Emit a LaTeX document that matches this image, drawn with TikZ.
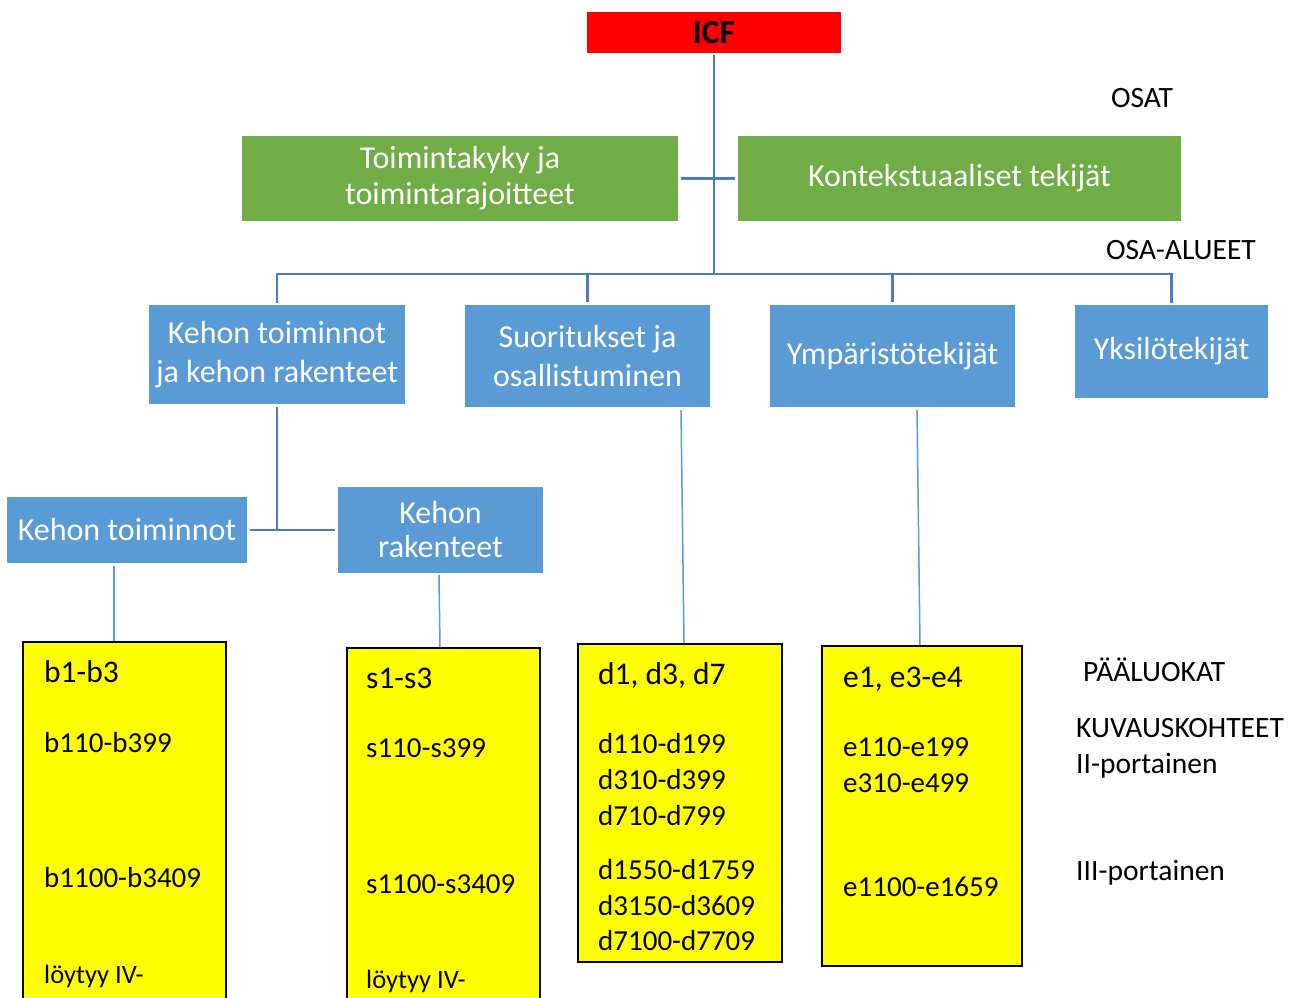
\documentclass[tikz,border=0pt]{standalone}
\usepackage{fontspec}
\setmainfont{Carlito}
\definecolor{icfred}{RGB}{255,0,0}
\definecolor{grn}{RGB}{112,173,71}
\definecolor{blu}{RGB}{91,155,213}
\definecolor{conn}{RGB}{74,126,187}
\definecolor{thinconn}{RGB}{91,155,213}
\definecolor{ylw}{RGB}{255,255,0}
\begin{document}
\begin{tikzpicture}[x=1pt,y=-1pt,
  box/.style={rectangle, inner sep=0pt, align=center, text=white,
    font=\fontsize{32}{39}\selectfont},
  greenbox/.style={box, fill=grn, font=\fontsize{32}{36}\selectfont},
  bluebox/.style={box, fill=blu},
  ybox/.style={rectangle, inner sep=0pt, fill=ylw, draw=black, line width=1.5pt},
  ytxt/.style={anchor=base west, inner sep=0pt, font=\fontsize{29}{34}\selectfont},
  yhead/.style={anchor=base west, inner sep=0pt, font=\fontsize{31.5}{36}\selectfont},
  ybig/.style={anchor=base west, inner sep=0pt, font=\fontsize{29}{34}\selectfont},
  ysmall/.style={anchor=base west, inner sep=0pt, font=\fontsize{26.5}{30}\selectfont},
  lbl/.style={inner sep=0pt, font=\fontsize{29.5}{34}\selectfont},
  thickc/.style={draw=conn, line width=2.8pt},
  thinc/.style={draw=thinconn, line width=1.5pt}
]
\useasboundingbox (0,0) rectangle (1301,998);
\fill[white] (0,0) rectangle (1301,998);
\clip (0,0) rectangle (1301,998);

% top
\node[rectangle, fill=icfred, minimum width=254pt, minimum height=41pt, inner sep=0pt,
  font=\fontsize{33.5}{38}\selectfont\bfseries] (icf) at (714,32.5) {ICF};

\node[greenbox, minimum width=436pt, minimum height=85pt] (g1) at (460,178.5)
  {Toimintakyky ja\\toimintarajoitteet};
\node[greenbox, minimum width=443pt, minimum height=85pt] (g2) at (959.5,178.5)
  {Kontekstuaaliset tekijät};

\node[lbl, anchor=base] (osat) at (1142,107) {OSAT};
\node[lbl, anchor=base] (osaal) at (1181,259) {OSA-ALUEET};

% blue level
\node[bluebox, minimum width=256pt, minimum height=99pt] (b1) at (277,354.5)
  {Kehon toiminnot\\ja kehon rakenteet};
\node[bluebox, minimum width=245pt, minimum height=102pt] (b2) at (587.5,356)
  {Suoritukset ja\\osallistuminen};
\node[bluebox, minimum width=245pt, minimum height=102pt] (b3) at (892.5,356)
  {Ympäristötekijät};
\node[bluebox, minimum width=193pt, minimum height=93pt] (b4) at (1171.5,351.5)
  {Yksilötekijät};

\node[bluebox, minimum width=240pt, minimum height=66pt] (kt) at (127,530)
  {Kehon toiminnot};
\node[bluebox, minimum width=205pt, minimum height=86pt,
  font=\fontsize{32}{34}\selectfont] (kr) at (440.5,530) {Kehon\\rakenteet};

\coordinate (bus) at (714,274);
\coordinate (gmid) at (714,179);
\coordinate (j1) at (277,530);

% connectors
\draw[thickc] ([yshift=-2pt]icf.south) -- (bus);
\draw[thickc] ([xshift=3pt]g1.east) -- ([xshift=-3pt]g2.west);
\draw[thickc] ([yshift=2pt]b1.north) |- (bus) -| ([yshift=2pt]b4.north);
\draw[thickc] (bus -| b2.north) -- ([yshift=3pt]b2.north);
\draw[thickc] (bus -| b3.north) -- ([yshift=3pt]b3.north);
\draw[thickc] ([yshift=-3pt]b1.south) -- (j1);
\draw[thickc] ([xshift=3pt]kt.east) -- ([xshift=-3pt]kr.west);

% yellow boxes
\node[ybox, minimum width=203pt, minimum height=368pt] (y1) at (124.5,826) {};
\node[ybox, minimum width=193pt, minimum height=362pt] (y2) at (443.5,829) {};
\node[ybox, minimum width=204pt, minimum height=318pt] (y3) at (680,803) {};
\node[ybox, minimum width=200pt, minimum height=320pt] (y4) at (922,806) {};

\draw[thinc] ([xshift=-13pt,yshift=-3pt]kt.south) -- ([xshift=-10.5pt]y1.north);
\draw[thinc] ([xshift=-1.5pt,yshift=-2pt]kr.south) -- ([xshift=-3.5pt]y2.north);
\draw[thinc] ([xshift=93.5pt,yshift=-3pt]b2.south) -- ([xshift=4pt]y3.north);
\draw[thinc] ([xshift=24.5pt,yshift=-3pt]b3.south) -- ([xshift=-2pt]y4.north);

% yellow texts
\node[yhead] (tb0) at (44,682) {b1-b3};
\node[ytxt] (tb1) at (44,752) {b110-b399};
\node[ytxt] (tb2) at (44,887) {b1100-b3409};
\node[ysmall] (tb3) at (44,983) {löytyy IV-};

\node[yhead] (ts0) at (366,688) {s1-s3};
\node[ytxt] (ts1) at (366,757) {s110-s399};
\node[ytxt] (ts2) at (366,893) {s1100-s3409};
\node[ysmall] (ts3) at (366,988) {löytyy IV-};

\node[yhead] (td0) at (598,684) {d1, d3, d7};
\node[ybig] (td1) at (598,753) {d110-d199};
\node[ybig] (td2) at (598,789) {d310-d399};
\node[ybig] (td3) at (598,825) {d710-d799};
\node[ybig] (td4) at (598,879) {d1550-d1759};
\node[ybig] (td5) at (598,915) {d3150-d3609};
\node[ybig] (td6) at (598,950) {d7100-d7709};

\node[yhead] (te0) at (843,687) {e1, e3-e4};
\node[ybig] (te1) at (843,756) {e110-e199};
\node[ybig] (te2) at (843,792) {e310-e499};
\node[ybig] (te3) at (843,896) {e1100-e1659};

% right labels
\node[lbl, anchor=base west] (pl) at (1083,681) {PÄÄLUOKAT};
\node[lbl, anchor=base west] (kk) at (1076,737) {KUVAUSKOHTEET};
\node[lbl, anchor=base west] (ii) at (1076,773) {II-portainen};
\node[lbl, anchor=base west] (iii) at (1076,880) {III-portainen};
\end{tikzpicture}
\end{document}
